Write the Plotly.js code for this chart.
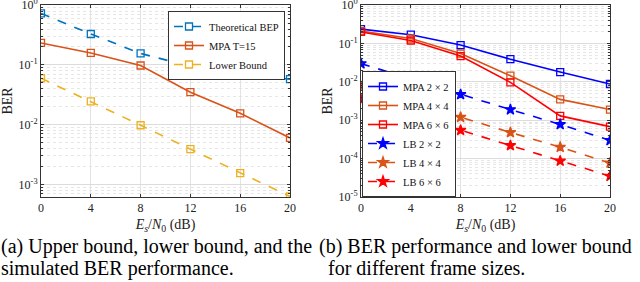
<!DOCTYPE html>
<html><head><meta charset="utf-8">
<script src="https://cdn.plot.ly/plotly-3.0.1.min.js"></script>
<style>body{margin:0;background:#fff}#c{width:640px;height:282px}</style>
</head><body><div id="c"></div>
<script>
const snr = [0, 4, 8, 12, 16, 20];
// left panel
const theoBEP = [0.73, 0.33, 0.156, 0.095, 0.068, 0.058];
const mpaT15 = [0.234, 0.159, 0.098, 0.035, 0.0155, 0.006];
const lowerBound = [0.06, 0.0245, 0.0098, 0.0039, 0.00155, 0.00063];
// right panel
const mpa2 = [0.237, 0.17, 0.091, 0.039, 0.018, 0.0088];
const mpa4 = [0.21, 0.135, 0.055, 0.0145, 0.0035, 0.0019];
const mpa6 = [0.2, 0.12, 0.047, 0.0097, 0.0013, 0.00068];
const lb2 = [0.030, 0.0118, 0.0047, 0.0019, 0.00078, 0.0003];
const lb4 = [0.0076, 0.0030, 0.0012, 0.00048, 0.0002, 0.000077];
const lb6 = [0.0034, 0.00134, 0.00055, 0.00022, 0.000087, 0.000035];
const xTicks = [0, 4, 8, 12, 16, 20];
const leftYTicks = [1, 0.1, 0.01, 0.001];
const leftYText = ['10<sup>0</sup>', '10<sup>-1</sup>', '10<sup>-2</sup>', '10<sup>-3</sup>'];
const rightYTicks = [1, 0.1, 0.01, 0.001, 0.0001, 0.00001];
const rightYText = ['10<sup>0</sup>', '10<sup>-1</sup>', '10<sup>-2</sup>', '10<sup>-3</sup>', '10<sup>-4</sup>', '10<sup>-5</sup>'];
const captionA = ['(a) Upper bound, lower bound, and the', 'simulated BER performance.'];
const captionB = ['(b) BER performance and lower bound', 'for different frame sizes.'];

const serif = '"Liberation Serif", "Times New Roman", serif';
const blue = '#0072BD', orange = '#D95319', yellow = '#EDB120';
const pblue = '#0000FF', pred = '#FF0000';

function minorVals(decades) {
  const v = [];
  decades.forEach(d => { for (let m = 2; m <= 9; m++) v.push(m * d); });
  return v;
}

function tr(y, name, color, dash, sym, xa, ya, leg, msize) {
  return {x: snr, y: y, name: name, type: 'scatter', mode: 'lines+markers',
    xaxis: xa, yaxis: ya, legend: leg,
    line: {color: color, width: 1.6, dash: dash},
    marker: {symbol: sym, size: msize || 7, color: color, line: {color: color, width: 1.3}}};
}
const data = [
  tr(theoBEP, 'Theoretical BEP', blue, 'dash', 'square-open', 'x', 'y', 'legend'),
  tr(mpaT15, 'MPA T=15', orange, 'solid', 'square-open', 'x', 'y', 'legend'),
  tr(lowerBound, 'Lower Bound', yellow, 'dash', 'square-open', 'x', 'y', 'legend'),
  tr(mpa2, 'MPA 2 × 2', pblue, 'solid', 'square-open', 'x2', 'y2', 'legend2'),
  tr(mpa4, 'MPA 4 × 4', orange, 'solid', 'square-open', 'x2', 'y2', 'legend2'),
  tr(mpa6, 'MPA 6 × 6', pred, 'solid', 'square-open', 'x2', 'y2', 'legend2'),
  tr(lb2, 'LB 2 × 2', pblue, 'dash', 'star', 'x2', 'y2', 'legend2', 8),
  tr(lb4, 'LB 4 × 4', orange, 'dash', 'star', 'x2', 'y2', 'legend2', 8),
  tr(lb6, 'LB 6 × 6', pred, 'dash', 'star', 'x2', 'y2', 'legend2', 8)
];
const axcol = '#333';
function xax(dom, anchor) {
  return {domain: dom, anchor: anchor, range: [0, 20], tickvals: xTicks,
    showline: true, mirror: 'ticks', linecolor: axcol, linewidth: 1,
    ticks: 'inside', ticklen: 3, tickcolor: axcol, ticklabeloverflow: 'allow',
    showgrid: true, gridcolor: '#e3e3e3', zeroline: false,
    tickfont: {family: serif, size: 12, color: '#222'},
    title: {text: '<i>E<sub>s</sub></i>/<i>N</i><sub>0</sub> (dB)', font: {family: serif, size: 14, color: '#222'}, standoff: 4}};
}
function yax(dom, anchor, rng, tv, tt, decs) {
  return {domain: dom, anchor: anchor, type: 'log', range: rng, tickvals: tv, ticktext: tt,
    showline: true, mirror: 'ticks', linecolor: axcol, linewidth: 1,
    ticks: 'inside', ticklen: 3, tickcolor: axcol, ticklabeloverflow: 'allow',
    showgrid: true, gridcolor: '#dcdcdc', zeroline: false,
    minor: {tickmode: 'array', tickvals: minorVals(decs), showgrid: true, gridcolor: '#e6e6e6', griddash: 'dot', ticks: 'inside', ticklen: 2, tickcolor: axcol},
    tickfont: {family: serif, size: 12, color: '#222'},
    title: {text: 'BER', font: {family: serif, size: 14, color: '#222'}, standoff: 2}};
}
const yd = [1 - 197/282, 1 - 5/282];
const ann = [];
function cap(lines, xs) {
  lines.forEach((t, i) => ann.push({text: t, xref: 'paper', yref: 'paper', x: xs[i] / 640, y: 1 - (246 + i*22)/282,
    xanchor: 'left', yanchor: 'middle', showarrow: false, font: {family: serif, size: 20, color: '#000'}}));
}
cap(captionA, [-1, -1]);
cap(captionB, [317, 326]);
const legFont = {family: serif, size: 10.5, color: '#111'};
const layout = {
  width: 640, height: 282, margin: {l: 0, r: 0, t: 0, b: 0},
  font: {family: serif},
  paper_bgcolor: '#fff', plot_bgcolor: '#fff', showlegend: true,
  xaxis: xax([41/640, 290/640], 'y'),
  yaxis: yax(yd, 'x', [-3.21, 0.004], leftYTicks, leftYText, [0.0001, 0.001, 0.01, 0.1]),
  xaxis2: xax([361/640, 610/640], 'y2'),
  yaxis2: yax(yd, 'x2', [-5, 0.004], rightYTicks, rightYText, [0.00001, 0.0001, 0.001, 0.01, 0.1]),
  legend: {x: 285/640, xanchor: 'right', y: 1 - 11/282, yanchor: 'top', bgcolor: '#fff',
    bordercolor: '#333', borderwidth: 1, font: legFont, tracegroupgap: 0, itemwidth: 30},
  legend2: {x: 362/640, xanchor: 'left', y: 1 - 197/282, yanchor: 'bottom', bgcolor: '#fff',
    bordercolor: '#333', borderwidth: 1, font: legFont, tracegroupgap: 0, itemwidth: 30},
  annotations: ann
};
Plotly.newPlot('c', data, layout, {staticPlot: true});
</script></body></html>
